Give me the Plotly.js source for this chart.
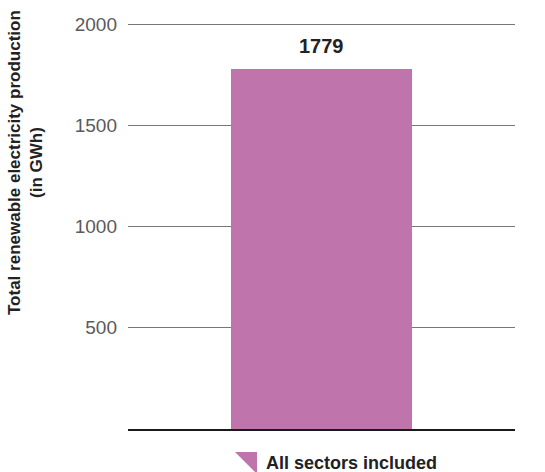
<!DOCTYPE html>
<html>
<head>
<meta charset="utf-8">
<script src="https://cdn.plot.ly/plotly-3.0.1.min.js"></script>
<style>
  html, body { margin: 0; padding: 0; background: #ffffff; }
  #chart { width: 545px; height: 472px; }
</style>
</head>
<body>
<div id="chart"></div>
<script>
// Renewable electricity production, all sectors combined
const categories = ["All sectors included"];
const production = [1779];
const tickValues = [500, 1000, 1500, 2000];
const tickLabels = ["500", "1000", "1500", "2000"];

const W = 545, H = 472;
const M = { l: 128, r: 30, t: 20, b: 43 };
const plotW = W - M.l - M.r, plotH = H - M.t - M.b;
// pixel -> paper helpers for the legend glyph and title placement
const px = x => (x - M.l) / plotW;
const py = y => (H - M.b - y) / plotH;

const barColor = "#bf75ab";
const font = "Liberation Sans, Arial, Helvetica, sans-serif";

const trace = {
  type: "bar",
  x: categories,
  y: production,
  width: 0.468,
  marker: { color: barColor, line: { width: 0 } },
  hoverinfo: "x+y",
  showlegend: false
};

const layout = {
  width: W,
  height: H,
  margin: M,
  paper_bgcolor: "#ffffff",
  plot_bgcolor: "#ffffff",
  font: { family: font, color: "#222" },
  bargap: 0,
  xaxis: {
    showticklabels: false,
    showgrid: false,
    zeroline: false,
    showline: true,
    linecolor: "#1a1a1a",
    linewidth: 2,
    ticks: "",
    fixedrange: true
  },
  yaxis: {
    // headroom above 2000 so its gridline is still drawn
    range: [0, 2020],
    tickvals: tickValues,
    ticktext: tickLabels,
    tickfont: { family: font, size: 19, color: "#5a5a5a" },
    ticklabelstandoff: 10,
    ticks: "",
    showgrid: true,
    gridcolor: "#777777",
    gridwidth: 1,
    zeroline: false,
    showline: false,
    fixedrange: true
  },
  annotations: [
    {
      x: categories[0], y: production[0],
      xref: "x", yref: "y",
      text: "<b>" + production[0] + "</b>",
      showarrow: false,
      yanchor: "bottom",
      yshift: 10,
      font: { family: font, size: 20, color: "#222222" }
    },
    {
      x: px(25), y: py(163),
      xref: "paper", yref: "paper",
      xanchor: "center", yanchor: "middle",
      text: "<b>Total renewable electricity production<br>(in GWh)</b>",
      textangle: -90,
      showarrow: false,
      font: { family: font, size: 17, color: "#222222" }
    },
    {
      x: px(264), y: py(463),
      xref: "paper", yref: "paper",
      xanchor: "left", yanchor: "middle",
      text: "<b>" + categories[0] + "</b>",
      showarrow: false,
      font: { family: font, size: 18, color: "#222222" }
    }
  ],
  shapes: [
    {
      type: "path",
      xref: "paper", yref: "paper",
      path: "M " + px(235) + " " + py(452) +
            " L " + px(257) + " " + py(452) +
            " L " + px(257) + " " + py(474) + " Z",
      fillcolor: barColor,
      line: { width: 0 }
    }
  ]
};

Plotly.newPlot("chart", [trace], layout, { displayModeBar: false, responsive: false });
</script>
</body>
</html>
